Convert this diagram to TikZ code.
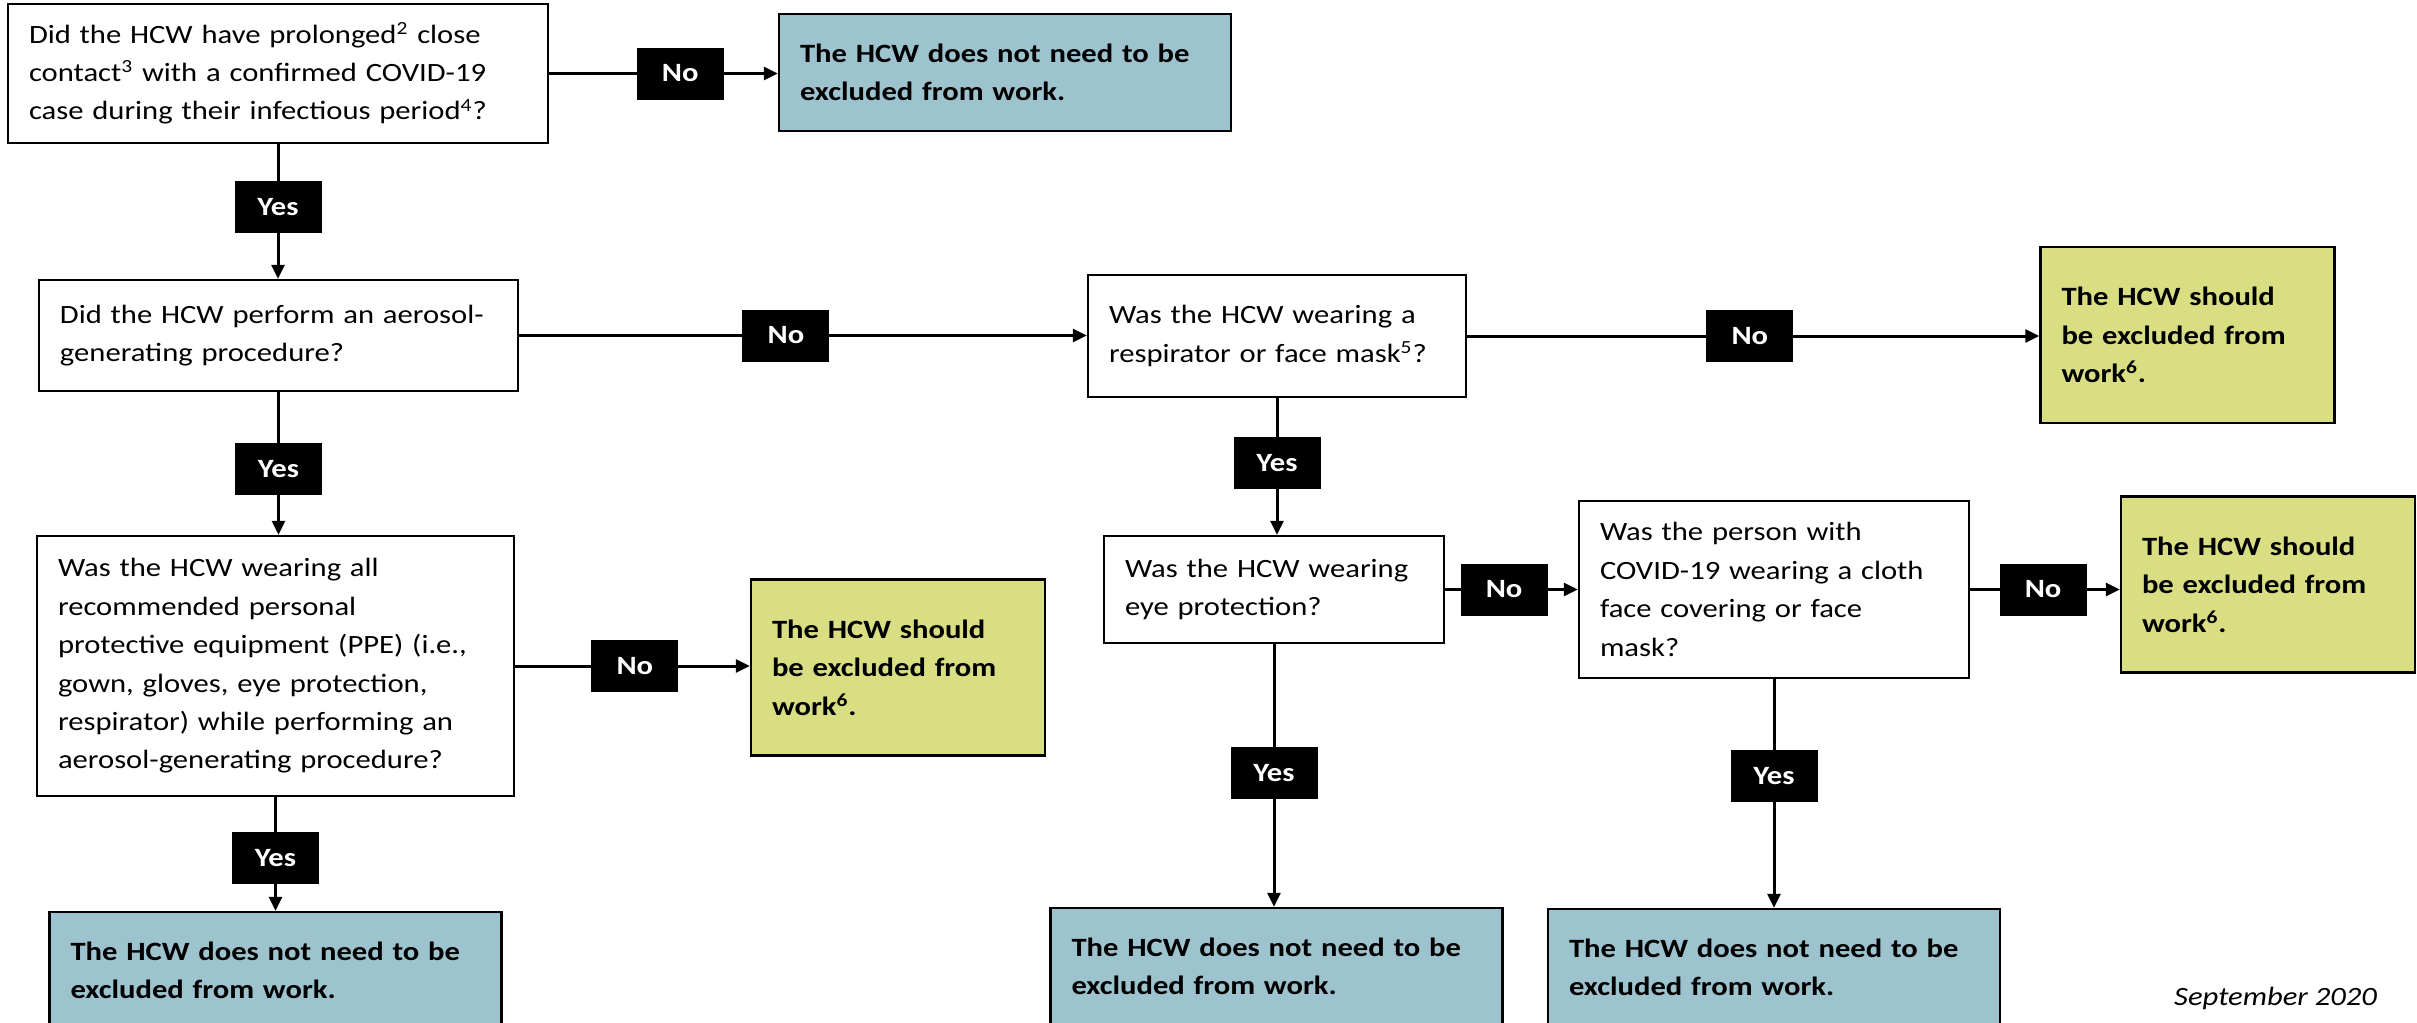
\documentclass[tikz,border=0pt]{standalone}
\usepackage{fontspec}
\setmainfont{Carlito}[FakeStretch=1.16]
\usepackage{xcolor}
\usepackage{tikz}
\usetikzlibrary{arrows.meta,positioning}

\definecolor{okblue}{HTML}{9DC3CF}
\definecolor{exclyellow}{HTML}{D9DE83}

\begin{document}
\begin{tikzpicture}[
    x=0.5pt, y=-0.5pt,
    every node/.style={font={\fontsize{13.2pt}{19.2pt}\selectfont}},
    question/.style={rectangle, draw=black, line width=1.2pt, fill=white, align=left, inner xsep=10.5pt, inner ysep=0pt},
    outcome/.style={question, font={\fontsize{13.2pt}{19.2pt}\selectfont\bfseries}},
    stay/.style={outcome, fill=okblue, text width=205pt, minimum height=58.5pt},
    exclude/.style={outcome, fill=exclyellow, text width=126pt, minimum height=88pt},
    answer/.style={rectangle, fill=black, text=white, font={\fontsize{13.2pt}{16pt}\selectfont\bfseries}, minimum width=43.5pt, minimum height=26pt, inner sep=0pt},
    line/.style={draw, line width=1.5pt, -{Triangle[length=7pt,width=6.5pt]}}
]
    \useasboundingbox (0,0) rectangle (2417,1023);

    % Questions
    \node [question, text width=249pt, minimum height=69.5pt] (contact) at (278,73.5) {Did the HCW have prolonged\textsuperscript{2} close\\contact\textsuperscript{3} with a confirmed COVID-19\\case during their infectious period\textsuperscript{4}?};
    \node [question, text width=218.5pt, minimum height=55.5pt] (aerosol) at (278.5,335.5) {Did the HCW perform an aerosol-\\generating procedure?};
    \node [question, text width=168pt, minimum height=61pt] (mask) at (1277,336) {Was the HCW wearing a\\respirator or face mask\textsuperscript{5}?};
    \node [question, text width=217.5pt, minimum height=130pt] (ppe) at (275.5,666) {Was the HCW wearing all\\recommended personal\\protective equipment (PPE) (i.e.,\\gown, gloves, eye protection,\\respirator) while performing an\\aerosol-generating procedure?};
    \node [question, text width=149pt, minimum height=53.5pt] (eye) at (1274,589.5) {Was the HCW wearing\\eye protection?};
    \node [question, text width=174pt, minimum height=88.5pt] (source) at (1774,589.5) {Was the person with\\COVID-19 wearing a cloth\\face covering or face\\mask?};

    % Outcomes
    \node [stay] (stayA) at (1005,72.5) {The HCW does not need to be\\excluded from work.};
    \node [stay] (stayB) at (275.5,970.5) {The HCW does not need to be\\excluded from work.};
    \node [stay] (stayC) at (1276.5,966.5) {The HCW does not need to be\\excluded from work.};
    \node [stay] (stayD) at (1774,967.5) {The HCW does not need to be\\excluded from work.};
    \node [exclude] (exclA) at (2187.5,335) {The HCW should\\be excluded from\\work\textsuperscript{6}.};
    \node [exclude] (exclB) at (898,667.5) {The HCW should\\be excluded from\\work\textsuperscript{6}.};
    \node [exclude] (exclC) at (2268,584.5) {The HCW should\\be excluded from\\work\textsuperscript{6}.};

    \node [anchor=base east, font={\fontsize{13.2pt}{16pt}\selectfont\itshape}] (date) at (2384,1005) {September 2020};

    % Routing
    \path [line] (contact.east) -- node [answer, pos=0.573] (no1) {No} (contact.east -| stayA.west);
    \path [line] (contact.south) -- node [answer, pos=0.464] (yes1) {Yes} (contact.south |- aerosol.north);

    \path [line] (aerosol.east) -- node [answer, pos=0.47] (no2) {No} (aerosol.east -| mask.west);
    \path [line] (aerosol.south) -- node [answer, pos=0.538] (yes2) {Yes} (aerosol.south |- ppe.north);

    \path [line] (mask.east) -- node [answer, pos=0.494] (no3) {No} (mask.east -| exclA.west);
    \path [line] (mask.south) -- node [answer, pos=0.475] (yes3) {Yes} (mask.south |- eye.north);

    \path [line] (ppe.east) -- node [answer, pos=0.51] (no4) {No} (ppe.east -| exclB.west);
    \path [line] (ppe.south) -- node [answer, pos=0.534] (yes4) {Yes} (ppe.south |- stayB.north);

    \path [line] (eye.east) -- node [answer, pos=0.444] (no5) {No} (eye.east -| source.west);
    \path [line] (eye.south) -- node [answer, pos=0.49] (yes5) {Yes} (eye.south |- stayC.north);

    \path [line] (source.east) -- node [answer, pos=0.487] (no6) {No} (source.east -| exclC.west);
    \path [line] (source.south) -- node [answer, pos=0.422] (yes6) {Yes} (source.south |- stayD.north);
\end{tikzpicture}
\end{document}
